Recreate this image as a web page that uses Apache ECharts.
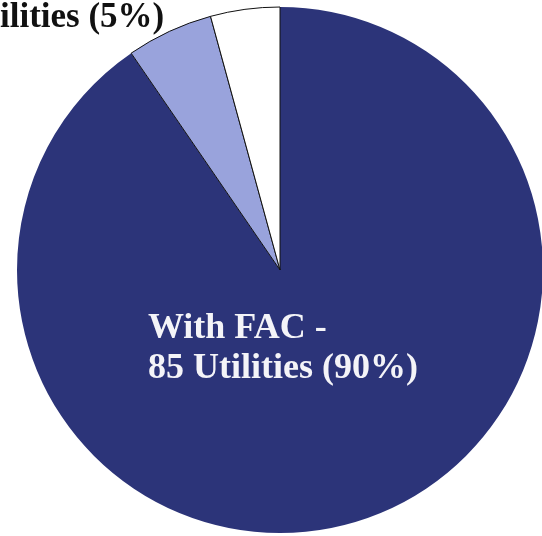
<!DOCTYPE html>
<html>
<head>
  <meta charset="UTF-8">
  <title>FAC pie</title>
  <style>
    html, body { margin: 0; padding: 0; background: #fff; }
    #myChart { width: 542px; height: 536px; }
  </style>
</head>
<body>
  <div id="myChart"></div>
  <script src="https://cdn.jsdelivr.net/npm/echarts@6/dist/echarts.min.js"></script>
  <script>
    const names = ['With FAC', 'Other', 'Without FAC'];
    const values = [85, 5, 4];
    const colors = ['#2c3479', '#99a3dc', '#ffffff'];
    const mainLabel = ['With FAC -', '85 Utilities (90%)'];
    const topLabel = 'ilities (5%)';

    const font = '"Liberation Serif", "Times New Roman", serif';
    const myChart = echarts.init(document.getElementById('myChart'));

    const option = {
      backgroundColor: '#fff',
      animation: false,
      series: [{
        type: 'pie',
        center: [280, 270],
        radius: 263,
        startAngle: 90,
        clockwise: true,
        label: { show: false },
        labelLine: { show: false },
        emphasis: { disabled: true },
        data: names.map((n, i) => ({
          name: n,
          value: values[i],
          itemStyle: {
            color: colors[i],
            borderColor: i === 0 ? colors[0] : '#111',
            borderWidth: i === 0 ? 0 : 1
          }
        }))
      }],
      graphic: [{
        type: 'text',
        left: 0,
        top: 0,
        z: 100,
        style: {
          text: topLabel,
          font: 'bold 35px ' + font,
          fill: '#111'
        }
      }, {
        type: 'text',
        left: 148,
        top: 309,
        z: 100,
        style: {
          text: mainLabel.join('\n'),
          font: 'bold 36px ' + font,
          lineHeight: 40,
          fill: '#f4f4f8'
        }
      }]
    };
    myChart.setOption(option);
  </script>
</body>
</html>
